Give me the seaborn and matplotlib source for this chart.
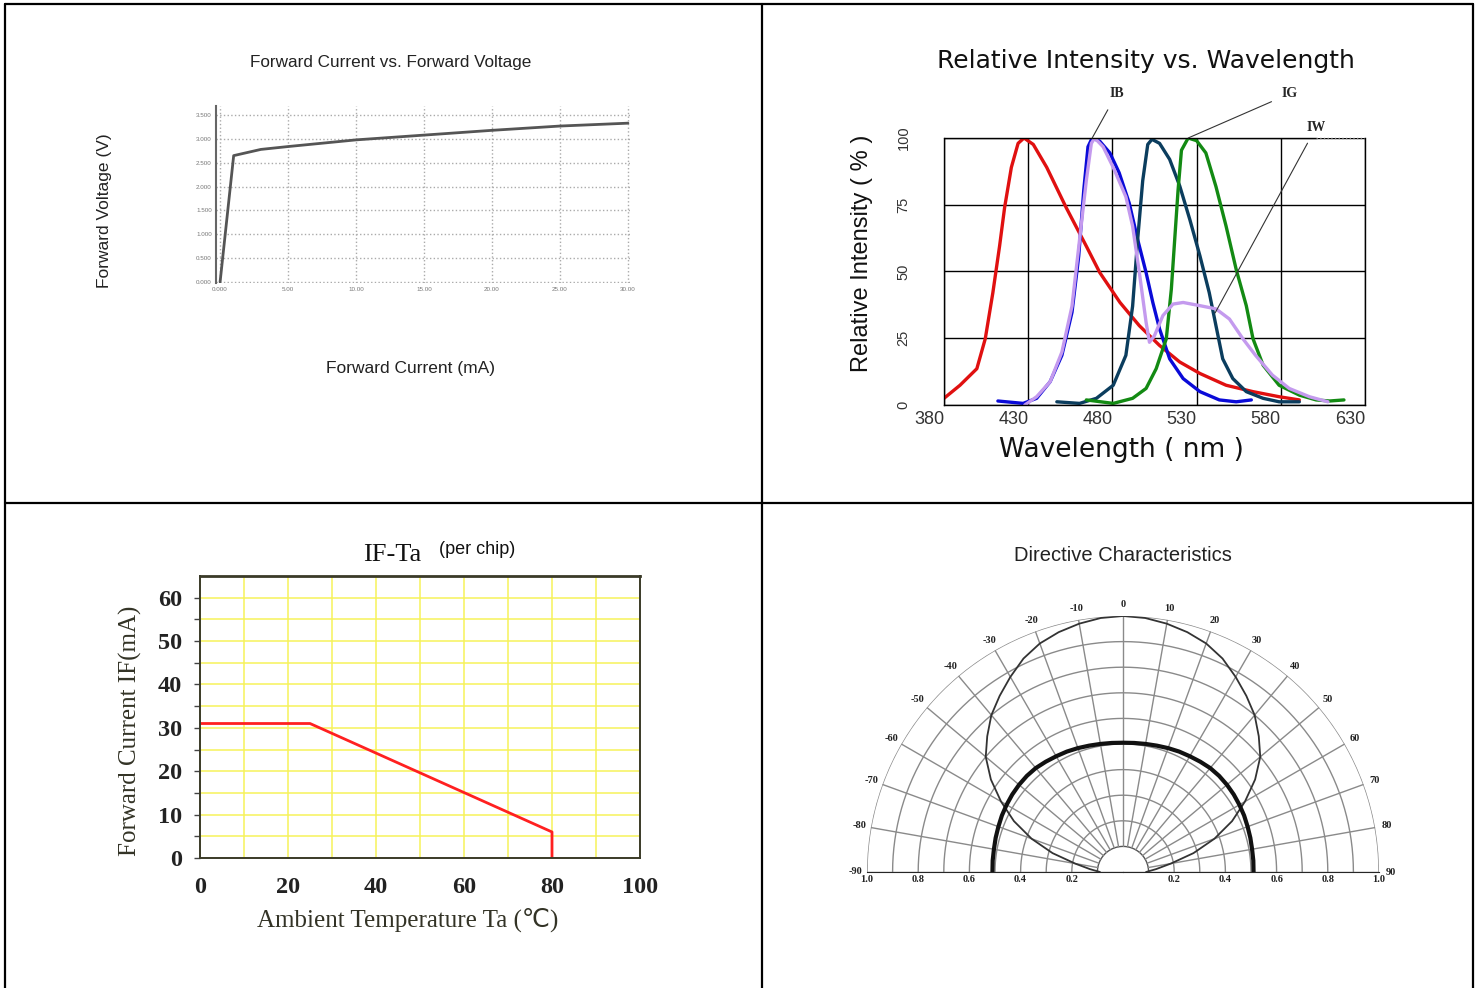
import numpy as np
import matplotlib
matplotlib.use("Agg")
import matplotlib.pyplot as plt
from matplotlib.lines import Line2D
from matplotlib.transforms import ScaledTranslation
from matplotlib import font_manager
import seaborn as sns

# --- Forward current vs forward voltage ---
fv_current = [0, 1, 3, 5, 10, 15, 20, 25, 30]
fv_voltage = [0, 2.65, 2.78, 2.84, 2.98, 3.08, 3.18, 3.27, 3.33]
fv_xticks = [0, 5, 10, 15, 20, 25, 30]
fv_xlabels = ["0.000", "5.00", "10.00", "15.00", "20.00", "25.00", "30.00"]
fv_yticks = [0, 0.5, 1.0, 1.5, 2.0, 2.5, 3.0, 3.5]
fv_ylabels = ["0.000", "0.500", "1.000", "1.500", "2.000", "2.500", "3.000", "3.500"]

# --- Relative intensity vs wavelength ---
red_nm = [380, 389.5, 399.5, 404.5, 409, 413, 416, 420, 424, 427.5, 433, 441, 452.5, 464.5,
          472.5, 484.5, 496, 508, 520, 532, 547.5, 563.5, 579, 591]
red_val = [2.5, 7.4, 13.6, 24.8, 42, 59.5, 74, 89, 98, 100, 97.6, 89, 74, 59.5,
           49.6, 38.4, 29.7, 22.3, 16.1, 11.8, 7.4, 5, 3.1, 1.9]
blue_nm = [412, 427, 435, 443, 450, 456, 460, 463, 465.5, 468, 472.5, 478.5, 484, 490,
           495, 500, 504, 508, 514, 522, 532, 543.5, 553.5, 562.5]
blue_val = [1.5, 0.6, 2.5, 8.7, 18.6, 34.7, 55.8, 80.5, 96.7, 100, 98.8, 94.4, 87, 75.6,
            62, 49.6, 38.4, 28.5, 17.3, 9.9, 5, 1.9, 1.2, 1.9]
white_nm = [428, 435, 443, 450, 456, 460.5, 464.5, 467.5, 469.5, 474.5, 480.5, 488, 492,
            496, 500, 502, 505, 510, 516, 522, 532, 541.5, 549.5, 557.5, 565, 575, 585, 597, 608]
white_val = [0, 3.1, 8.7, 19.8, 37, 61.9, 84, 98, 100, 96.7, 89, 78, 67,
             49.6, 31, 23.5, 26, 33.5, 37.8, 38.4, 37.2, 36, 32.2, 24.8, 18.6, 11.2, 6.2, 3.1, 1.2]
navy_nm = [447, 460.5, 470.5, 480.5, 488, 492, 495, 498, 501, 503.5, 508, 514, 520, 526,
           532, 537.5, 541.5, 545.5, 551.5, 559.5, 569.5, 579, 591]
navy_val = [1.2, 0.6, 2.5, 7.4, 18.6, 37, 62, 84, 97.6, 99.5, 98, 92, 82, 69.4,
            55.8, 42.1, 29.7, 17.3, 9.9, 5, 2.5, 1.2, 1.2]
green_nm = [464.5, 480.5, 492, 500, 506, 512, 515, 517, 519, 521, 525, 530, 535.5, 541.5,
            547.5, 553.5, 559.5, 563.5, 569.5, 579, 591, 601, 609, 617.5]
green_val = [1.9, 0.6, 2.5, 6.2, 13.6, 24.8, 43.4, 62, 80.5, 95.4, 100, 99, 94.4, 81.8,
             67, 50.8, 37.2, 24.8, 14.9, 7.4, 3.7, 1.9, 1.5, 1.9]
wl_ticks = [380, 430, 480, 530, 580, 630]
ri_ticks = [0, 25, 50, 75, 100]

# --- IF-Ta derating ---
ta_temp = [0, 25, 80, 80]
ta_current = [31, 31, 6, 0]
ta_xticks = [0, 20, 40, 60, 80, 100]
ta_yticks = [0, 10, 20, 30, 40, 50, 60]

# --- Directive characteristics ---
dir_angle = [-90, -85, -80, -75, -70, -65, -60, -55, -50, -45, -40, -35, -30, -25, -20, -15, -10, -5,
             0, 5, 10, 15, 20, 25, 30, 35, 40, 45, 50, 55, 60, 65, 70, 75, 80, 85, 90]
dir_narrow = [0.09, 0.13, 0.19, 0.285, 0.38, 0.47, 0.55, 0.63, 0.70, 0.75, 0.80, 0.84, 0.88, 0.92,
              0.95, 0.97, 0.985, 0.996, 1.0, 0.996, 0.985, 0.97, 0.95, 0.92, 0.88, 0.84, 0.80,
              0.75, 0.70, 0.63, 0.55, 0.47, 0.38, 0.285, 0.19, 0.13, 0.09]
dir_wide = [0.51, 0.511, 0.512, 0.515, 0.518, 0.522, 0.525, 0.528, 0.53, 0.531, 0.53, 0.526, 0.522,
            0.519, 0.515, 0.511, 0.508, 0.506, 0.505, 0.506, 0.508, 0.511, 0.515, 0.519, 0.522,
            0.526, 0.53, 0.531, 0.53, 0.528, 0.525, 0.522, 0.518, 0.515, 0.512, 0.511, 0.51]
grid_angles = list(range(-90, 91, 10))
grid_radii = [0.1, 0.2, 0.3, 0.4, 0.5, 0.6, 0.7, 0.8, 0.9, 1.0]
radial_labels = ["1.0", "0.8", "0.6", "0.4", "0.2"]
radial_pos = [1.0, 0.8, 0.6, 0.4, 0.2]

sns.set_style("white")
names = {f.name for f in font_manager.fontManager.ttflist}
narrow = "Liberation Sans Narrow" if "Liberation Sans Narrow" in names else "Liberation Sans"
plt.rcParams["font.family"] = ["Liberation Sans", "DejaVu Sans"]

W, H = 1478, 988
fig = plt.figure(figsize=(W / 100, H / 100), dpi=100)


def fx(px):
    return px / W


def fy(py):
    return 1 - py / H


# table borders
for (x0, y0, x1, y1) in [(4.5, 4, 1473, 4), (4.5, 4, 4.5, 988), (1473, 4, 1473, 988),
                         (762.5, 4, 762.5, 988), (4.5, 502.7, 1473, 502.7)]:
    fig.add_artist(Line2D([fx(x0), fx(x1)], [fy(y0), fy(y1)], color="black", lw=1.6,
                          transform=fig.transFigure))

# ---------------- top-left ----------------
ax1 = fig.add_axes([fx(216), fy(283), fx(414), 177 / H])
sns.lineplot(x=fv_current, y=fv_voltage, ax=ax1, color="#555555", lw=2, sort=False, estimator=None)
ax1.set_xlim(-0.3, 30.15)
ax1.set_ylim(-0.02, 3.69)
ax1.set_xticks(fv_xticks, fv_xlabels)
ax1.set_yticks(fv_yticks, fv_ylabels)
ax1.tick_params(labelsize=4.5, labelcolor="#777777", length=2, color="#999999", pad=1)
ax1.grid(True, color="#aaaaaa", ls=":", lw=1)
for s in ["top", "right", "bottom"]:
    ax1.spines[s].set_visible(False)
ax1.spines["left"].set_color("#666666")
ax1.spines["left"].set_linewidth(1.5)
ax1.set_xlabel("")
ax1.set_ylabel("")
fig.text(fx(391), fy(63), "Forward Current vs. Forward Voltage", family=narrow, fontsize=12.3,
         ha="center", va="center", color="#222222")
fig.text(fx(105), fy(211), "Forward Voltage (V)", family=narrow, fontsize=12.5, rotation=90,
         ha="center", va="center", color="#222222")
fig.text(fx(410), fy(368), "Forward Current (mA)", family=narrow, fontsize=12.5,
         ha="center", va="center", color="#222222")

# ---------------- top-right ----------------
ax2 = fig.add_axes([fx(944), fy(405), fx(421), 267 / H])
for nm, val, col in [(red_nm, red_val, "#e01010"), (blue_nm, blue_val, "#0a0ad8"),
                     (navy_nm, navy_val, "#0b3d5e"), (green_nm, green_val, "#138a13"),
                     (white_nm, white_val, "#c49aee")]:
    sns.lineplot(x=nm, y=val, ax=ax2, color=col, lw=2.4, sort=False, estimator=None)
ax2.set_xlim(380, 630)
ax2.set_ylim(0, 100)
ax2.set_xticks(wl_ticks, [str(t) for t in wl_ticks])
ax2.set_yticks(ri_ticks, [str(t) for t in ri_ticks])
ax2.tick_params(axis="x", labelsize=13, length=0, pad=4, labelcolor="#333333")
ax2.tick_params(axis="y", labelsize=10.5, length=0, pad=24, labelcolor="#333333",
                labelrotation=90)
for lbl in ax2.get_xticklabels():
    lbl.set_transform(lbl.get_transform() + ScaledTranslation(-0.15, 0, fig.dpi_scale_trans))
for lbl in ax2.get_yticklabels():
    lbl.set_verticalalignment("center")
ax2.grid(True, color="black", lw=1)
ax2.spines["top"].set_visible(False)
for s in ["left", "right", "bottom"]:
    ax2.spines[s].set_color("black")
    ax2.spines[s].set_linewidth(1)
ax2.axhline(100, xmin=0, xmax=(601 - 380) / 250, color="black", lw=1, clip_on=False)
ax2.axhline(100, xmin=(601 - 380) / 250, xmax=1, color="#777777", lw=1, ls=":", clip_on=False)
ax2.set_xlabel("")
ax2.set_ylabel("")
lab_kw = dict(family=["Liberation Serif", "DejaVu Serif"], fontsize=10, fontweight="bold",
              ha="center", va="center", annotation_clip=False,
              arrowprops=dict(arrowstyle="-", color="#333333", lw=0.8, shrinkA=5, shrinkB=0))
ax2.annotate("IB", xy=(468, 100), xytext=(482.5, 116.5), **lab_kw)
ax2.annotate("IG", xy=(525, 100), xytext=(585, 116.5), **lab_kw)
ax2.annotate("IW", xy=(541, 34.5), xytext=(601, 104), **lab_kw)
fig.text(fx(1146), fy(61), "Relative Intensity vs. Wavelength", family="DejaVu Sans",
         fontsize=18, ha="center", va="center", color="#111111")
fig.text(fx(862), fy(253), "Relative Intensity ( % )", family=narrow, fontsize=17,
         rotation=90, ha="center", va="center", color="#111111")
fig.text(fx(1121), fy(450), "Wavelength ( nm )", family="DejaVu Sans", fontsize=19,
         ha="center", va="center", color="#111111")

# ---------------- bottom-left ----------------
ax3 = fig.add_axes([fx(200), fy(858), fx(440), 282 / H])
sns.lineplot(x=ta_temp, y=ta_current, ax=ax3, color="#ff2020", lw=2, sort=False, estimator=None)
ax3.set_xlim(0, 100)
ax3.set_ylim(0, 65)
ax3.set_xticks(ta_xticks, [str(t) for t in ta_xticks])
ax3.set_xticks(range(10, 100, 10), minor=True)
ax3.set_yticks(ta_yticks, [str(t) for t in ta_yticks])
ax3.set_yticks(range(5, 65, 10), minor=True)
ax3.grid(True, which="both", color="#f6f25a", lw=1.1)
ax3.set_axisbelow(True)
serif = ["Liberation Serif", "DejaVu Serif"]
ax3.tick_params(axis="x", which="both", length=0, pad=14, labelsize=17.5)
ax3.tick_params(axis="y", which="both", left=True, length=4, width=1, color="#444444",
                pad=9, labelsize=17.5)
for lbl in ax3.get_xticklabels() + ax3.get_yticklabels():
    lbl.set_family(serif)
    lbl.set_fontweight("bold")
    lbl.set_color("#222222")
for s in ax3.spines.values():
    s.set_color("#3a3a28")
    s.set_linewidth(1.4)
ax3.spines["top"].set_linewidth(2)
ax3.set_xlabel("")
ax3.set_ylabel("")
fig.text(fx(392), fy(555), "IF-Ta", family=serif, fontsize=19, ha="center", va="center",
         color="#111111")
fig.text(fx(477), fy(550), "(per chip)", family="Liberation Sans", fontsize=13,
         ha="center", va="center", color="#111111")
fig.text(fx(130), fy(731), "Forward Current IF(mA)", family=serif, fontsize=18, rotation=90,
         ha="center", va="center", color="#333326")
fig.text(fx(408), fy(920), "Ambient Temperature Ta (\u2103)", family=["Liberation Serif", "DejaVu Sans"],
         fontsize=18, ha="center", va="center", color="#333326")

# ---------------- bottom-right ----------------
# square box so the half disc spans 512 px wide, baseline at y=872
ax4 = fig.add_axes([fx(867), fy(1000), fx(512), 512 / H], projection="polar")
ax4.set_theta_zero_location("N")
ax4.set_theta_direction(-1)
ax4.set_thetamin(-90)
ax4.set_thetamax(90)
ax4.set_ylim(0, 1)
ax4.grid(False)
for s in ax4.spines.values():
    s.set_visible(False)
arc = np.deg2rad(np.linspace(-90, 90, 181))
for r in grid_radii:
    ax4.plot(arc, [r] * len(arc), color="#8a8a8a" if r > 0.1 else "#555555", lw=1)
for a in grid_angles:
    r0 = 0.0 if abs(a) == 90 else 0.1
    ax4.plot([np.deg2rad(a)] * 2, [r0, 1.0], color="#8a8a8a", lw=1)
sns.lineplot(x=np.deg2rad(dir_angle), y=dir_narrow, ax=ax4, color="#333333", lw=1.3,
             sort=False, estimator=None)
sns.lineplot(x=np.deg2rad(dir_angle), y=dir_wide, ax=ax4, color="#111111", lw=3,
             sort=False, estimator=None)
ax4.set_xlabel("")
ax4.set_ylabel("")
ax4.set_yticks([])
ax4.set_xticks(np.deg2rad(grid_angles))
ax4.set_xticklabels([str(a) for a in grid_angles], family=serif, fontweight="bold",
                    fontsize=7.5, color="#222222")
ax4.tick_params(axis="x", pad=-2)
down = ax4.transData + ScaledTranslation(0, -2 / 72, fig.dpi_scale_trans)
for r, t in zip(radial_pos, radial_labels):
    for side in (-90, 90):
        ax4.text(np.deg2rad(side), r, t, transform=down, ha="center", va="top", family=serif,
                 fontweight="bold", fontsize=7.5, color="#222222")
fig.text(fx(1123), fy(555), "Directive Characteristics", family=narrow, fontsize=14.5,
         ha="center", va="center", color="#222222")

fig.savefig("out.png", dpi=100)
